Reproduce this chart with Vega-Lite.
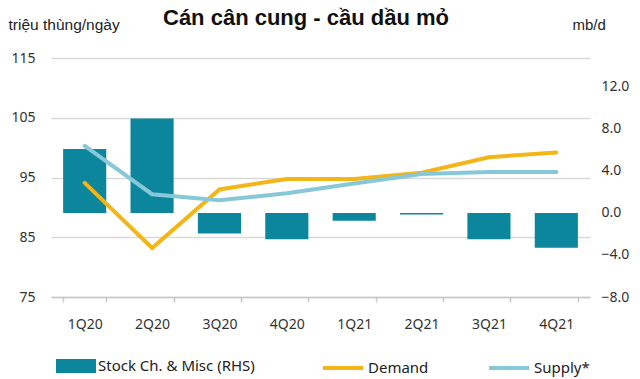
{
  "$schema": "https://vega.github.io/schema/vega-lite/v6.json",
  "autosize": "none",
  "padding": {"left": 51, "top": 58, "right": 50, "bottom": 82},
  "width": 539,
  "height": 239,
  "background": "white",
  "title": {
    "text": "Cán cân cung - cầu dầu mỏ",
    "font": "Liberation Sans",
    "fontSize": 22,
    "fontWeight": "bold",
    "color": "#111111",
    "anchor": "start",
    "frame": "group",
    "dx": 112,
    "dy": 17
  },
  "config": {
    "view": {"stroke": null},
    "axis": {"labelFont": "Noto Sans", "labelFontSize": 14, "labelColor": "#333333", "titleFont": "Liberation Sans", "titleFontWeight": "normal", "titleFontSize": 15.5, "titleColor": "#222222"},
    "legend": {"labelFont": "Noto Sans", "labelFontSize": 15, "labelColor": "#222222"}
  },
  "data": {
    "values": [
      {"quarter": "1Q20", "stock": 6.1, "demand": 94.1, "supply": 100.3},
      {"quarter": "2Q20", "stock": 9.0, "demand": 83.2, "supply": 92.2},
      {"quarter": "3Q20", "stock": -1.95, "demand": 93.0, "supply": 91.2},
      {"quarter": "4Q20", "stock": -2.5, "demand": 94.75, "supply": 92.35},
      {"quarter": "1Q21", "stock": -0.75, "demand": 94.75, "supply": 94.0},
      {"quarter": "2Q21", "stock": -0.15, "demand": 95.8, "supply": 95.6},
      {"quarter": "3Q21", "stock": -2.5, "demand": 98.4, "supply": 95.9},
      {"quarter": "4Q21", "stock": -3.3, "demand": 99.2, "supply": 95.9}
    ]
  },
  "encoding": {
    "x": {
      "field": "quarter", "type": "nominal", "sort": null,
      "scale": {"paddingInner": 0.36, "paddingOuter": 0.18},
      "axis": {"title": null, "labelAngle": 0, "domainColor": "#c8c8c8", "domainWidth": 1.5, "tickColor": "#c8c8c8", "tickWidth": 1.5, "tickSize": 5, "tickBand": "extent", "labelPadding": 15, "grid": false}
    }
  },
  "layer": [
    {
      "mark": {"type": "bar", "color": "#0c869c"},
      "encoding": {
        "y": {
          "field": "stock", "type": "quantitative",
          "scale": {"domain": [-8, 14.76], "nice": false, "zero": false},
          "axis": {"orient": "right", "values": [-8, -4, 0, 4, 8, 12], "format": ".1f", "grid": false, "domain": false, "ticks": false, "labelPadding": 11, "title": "mb/d", "titleFontSize": 15, "titleAngle": 0, "titleAlign": "left", "titleBaseline": "alphabetic", "titleX": -18, "titleY": -29}
        },
        "fill": {
          "datum": "Stock Ch. & Misc (RHS)",
          "scale": {"range": ["#0c869c"]},
          "legend": {"title": null, "orient": "none", "legendX": 5, "legendY": 288, "symbolType": "M-1,-0.35H1V0.35H-1Z", "symbolSize": 1600, "symbolStrokeWidth": 0, "labelOffset": 2}
        }
      }
    },
    {
      "layer": [
        {
          "mark": {"type": "line", "strokeWidth": 4, "strokeCap": "round"},
          "encoding": {
            "y": {
              "field": "demand", "type": "quantitative",
              "scale": {"domain": [75, 115], "nice": false, "zero": false},
              "axis": {"orient": "left", "values": [75, 85, 95, 105, 115], "grid": true, "gridColor": "#d9d9d9", "gridWidth": 1.5, "domain": false, "ticks": false, "labelPadding": 16, "title": "triệu thùng/ngày", "titleAngle": 0, "titleAlign": "left", "titleBaseline": "alphabetic", "titleX": -43, "titleY": -29}
            },
            "stroke": {
              "datum": "Demand",
              "scale": {"domain": ["Demand", "Supply*"], "range": ["#f4b517", "#86c8d8"]},
              "legend": {"title": null, "orient": "none", "direction": "horizontal", "legendX": 270, "legendY": 288, "symbolType": "stroke", "symbolSize": 1600, "symbolStrokeWidth": 4, "labelOffset": 3, "columnPadding": 52}
            }
          }
        },
        {
          "mark": {"type": "line", "strokeWidth": 4, "strokeCap": "round"},
          "encoding": {
            "y": {"field": "supply", "type": "quantitative"},
            "stroke": {"datum": "Supply*"}
          }
        }
      ]
    }
  ],
  "resolve": {"scale": {"y": "independent", "fill": "independent", "stroke": "independent"}}
}
